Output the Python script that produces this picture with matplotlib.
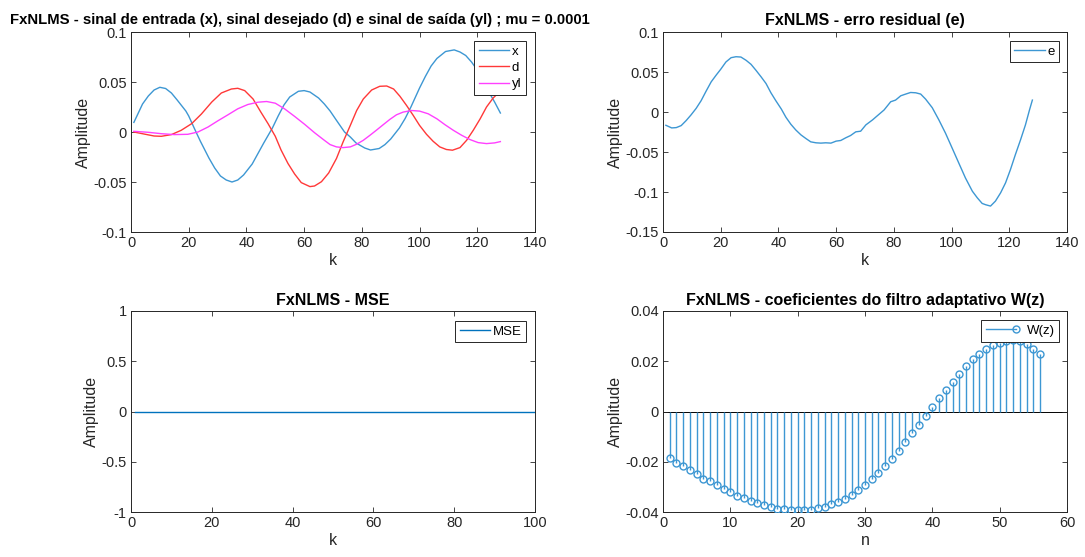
import matplotlib
matplotlib.use("Agg")
import matplotlib.pyplot as plt
from matplotlib.lines import Line2D
from matplotlib.legend_handler import HandlerBase
from matplotlib.ticker import FuncFormatter

# --- data ---
k_x = [1, 4, 6, 8, 10, 12, 14, 16, 19, 20, 22, 24, 27, 29, 31, 33, 35, 37, 39, 42,
       44, 46, 49, 51, 53, 55, 58, 60, 62, 65, 67, 69, 71, 74, 76, 78, 81, 83, 86, 88,
       90, 93, 95, 97, 100, 102, 104, 106, 109, 112, 114, 116, 118, 120, 122, 124, 126, 128]
x_sig = [0.0096, 0.028, 0.036, 0.042, 0.0447, 0.0435, 0.039, 0.032, 0.021, 0.016, 0.0033,
         -0.009, -0.026, -0.036, -0.044, -0.048, -0.050, -0.048, -0.043, -0.032, -0.0215,
         -0.011, 0.004, 0.016, 0.027, 0.035, 0.0407, 0.0414, 0.040, 0.034, 0.028, 0.021,
         0.0125, 0.000, -0.005, -0.011, -0.016, -0.018, -0.0165, -0.0126, -0.007, 0.004,
         0.0135, 0.025, 0.044, 0.0555, 0.066, 0.0735, 0.0805, 0.0821, 0.080, 0.0765, 0.070,
         0.062, 0.052, 0.040, 0.030, 0.019]

k_d = [1, 5, 8, 10.5, 14, 17.4, 21, 24.4, 28, 31.3, 34.8, 37, 39.4, 42.3, 45, 47.5, 50,
       52, 54.4, 56.7, 59, 62, 63.6, 66, 68.5, 71.2, 73.5, 76, 78.2, 80.5, 83.4, 86.2,
       88.6, 91, 93.2, 95.5, 97.8, 100, 102.4, 104.7, 107, 109.3, 111.4, 114, 116.3,
       118.6, 121, 123.2, 125.5, 128]
d_sig = [0.0, -0.0023, -0.004, -0.0043, -0.0026, 0.0017, 0.0083, 0.018, 0.030, 0.039,
         0.043, 0.0437, 0.0414, 0.033, 0.0199, 0.0083, -0.0043, -0.018, -0.0315, -0.042,
         -0.0506, -0.0546, -0.054, -0.0497, -0.041, -0.0265, -0.0099, 0.0066, 0.0215,
         0.033, 0.042, 0.0457, 0.046, 0.043, 0.0357, 0.0265, 0.0166, 0.0066, -0.0023,
         -0.0093, -0.0149, -0.0175, -0.0182, -0.0156, -0.0083, 0.0017, 0.0132, 0.025,
         0.034, 0.041]

k_yl = [1, 6, 10.5, 15, 19.7, 23.2, 26.7, 30, 33.6, 37, 40.5, 44, 47, 50, 53.2, 56.7,
        60.2, 63.6, 67, 69, 71.2, 73.5, 76, 78.2, 80.5, 82.8, 85, 87.4, 89.7, 92, 94.3,
        97.2, 100, 103, 106, 108.8, 111.7, 114.6, 117.5, 120.3, 123.2, 126, 128]
yl_sig = [0.0007, -0.0003, -0.0017, -0.0026, -0.0023, 0.0, 0.005, 0.011, 0.0172, 0.0232,
          0.0275, 0.0298, 0.0305, 0.0288, 0.0232, 0.0156, 0.0076, -0.0007, -0.0083,
          -0.0126, -0.0149, -0.0156, -0.0149, -0.0122, -0.0083, -0.0033, 0.0017, 0.0073,
          0.0126, 0.0172, 0.0199, 0.0215, 0.0209, 0.0182, 0.0132, 0.0073, 0.0017, -0.0033,
          -0.0076, -0.0106, -0.0116, -0.0109, -0.0096]

k_e = [1, 3, 4.6, 6.3, 8, 9.7, 11.5, 13.2, 15, 16.7, 18.4, 20, 21.8, 23.6, 25.3, 27,
       28.8, 30.5, 32.2, 34, 35.7, 37.4, 39.1, 41, 42.6, 44.3, 46, 47.8, 49.5, 51.2, 53,
       54.7, 56.4, 58.2, 60, 61.6, 63.3, 65, 66.8, 68.5, 70.3, 72.6, 74.3, 76.6, 78.9,
       80.6, 82.4, 84.1, 85.8, 87.6, 89.3, 91, 93.3, 95.6, 97.9, 100.2, 102.5, 104.8,
       107.2, 108.9, 110.6, 111.8, 113.5, 115.2, 117, 118.7, 120.4, 122.1, 123.9, 125.6,
       127, 128]
e_sig = [-0.0166, -0.0199, -0.0195, -0.017, -0.0108, -0.0037, 0.0046, 0.0141, 0.0265,
         0.0377, 0.046, 0.0534, 0.0625, 0.0679, 0.0691, 0.0687, 0.0646, 0.0596, 0.0522,
         0.0439, 0.0356, 0.024, 0.0141, 0.0037, -0.0066, -0.0153, -0.0224, -0.0286,
         -0.0331, -0.0373, -0.0385, -0.0389, -0.0385, -0.0389, -0.0364, -0.0356, -0.0323,
         -0.0294, -0.0248, -0.0240, -0.0161, -0.0099, -0.0046, 0.0025, 0.0128, 0.0149,
         0.0203, 0.0224, 0.0244, 0.024, 0.0224, 0.0161, 0.0054, -0.0099, -0.0265, -0.0451,
         -0.0638, -0.0824, -0.099, -0.1072, -0.1143, -0.1159, -0.1176, -0.1114, -0.101,
         -0.0886, -0.072, -0.0534, -0.0348, -0.0161, 0.0025, 0.0149]

k_mse = [1, 100]
mse = [0.0, 0.0]

n_w = list(range(1, 57))
w_coef = [-0.0185, -0.0203, -0.0216, -0.0233, -0.0250, -0.0268, -0.0278, -0.0294,
          -0.0310, -0.0322, -0.0335, -0.0346, -0.0356, -0.0364, -0.0374, -0.0380,
          -0.0387, -0.0389, -0.0392, -0.0393, -0.0393, -0.0392, -0.0385, -0.0379,
          -0.0370, -0.0360, -0.0348, -0.0334, -0.0314, -0.0293, -0.0269, -0.0244,
          -0.0216, -0.0188, -0.0156, -0.0123, -0.0087, -0.0053, -0.0019, 0.0016,
          0.0053, 0.0087, 0.0119, 0.0150, 0.0181, 0.0207, 0.0230, 0.0250, 0.0266,
          0.0273, 0.0280, 0.0284, 0.0280, 0.0269, 0.0250, 0.0230]

BLUE = "#0072BD"
LBLUE = "#3d97d3"
TXT = "#262626"

plt.rcParams["font.family"] = ["Liberation Sans", "DejaVu Sans"]
plt.rcParams["axes.unicode_minus"] = False


class StemHandler(HandlerBase):
    # MATLAB-style stem legend: line with the marker at its right end
    def create_artists(self, legend, orig_handle, xdescent, ydescent, width, height,
                       fontsize, trans):
        y = height / 2 - ydescent
        ln = Line2D([-xdescent, width - xdescent], [y, y], color=LBLUE, lw=1.0)
        mk = Line2D([width - xdescent], [y], marker="o", ms=5, mfc="none",
                    mec=LBLUE, mew=1.0, ls="none")
        ln.set_transform(trans)
        mk.set_transform(trans)
        return [ln, mk]


def style(ax, xt, yt, xlab):
    ax.set_xticks(xt)
    ax.set_yticks(yt)
    ax.set_xlim(xt[0], xt[-1])
    ax.set_ylim(yt[0], yt[-1])
    fmt = FuncFormatter(lambda v, p: "%g" % round(v, 6))
    ax.xaxis.set_major_formatter(fmt)
    ax.yaxis.set_major_formatter(fmt)
    ax.tick_params(direction="in", top=True, right=True, length=3.5, width=0.6,
                   colors=TXT, labelsize=10.5, pad=3)
    for s in ax.spines.values():
        s.set_color(TXT)
        s.set_linewidth(0.7)
    ax.set_xlabel(xlab, fontsize=11.5, color=TXT, labelpad=2)
    ax.set_ylabel("Amplitude", fontsize=11.5, color=TXT, labelpad=2)


def legend(ax, anchor, textpad=0.2, **kw):
    lg = ax.legend(loc="upper right", bbox_to_anchor=anchor, borderaxespad=0,
                   fontsize=9.5, fancybox=False, framealpha=1, edgecolor=TXT,
                   handlelength=2.3, handletextpad=textpad, labelspacing=0.3,
                   borderpad=0.35, **kw)
    lg.get_frame().set_linewidth(0.7)
    return lg


W, H = 1085, 557
fig = plt.figure(figsize=(W / 100, H / 100), dpi=100)


def box(l, t, w, h):
    return [l / W, (H - t - h) / H, w / W, h / H]


ax1 = fig.add_axes(box(131, 32, 404, 200))
ax2 = fig.add_axes(box(663, 32, 404, 200))
ax3 = fig.add_axes(box(131, 311, 404, 201))
ax4 = fig.add_axes(box(663, 311, 404, 201))

# top-left: x, d, yl
ax1.plot(k_x, x_sig, color=LBLUE, lw=1.0, label="x")
ax1.plot(k_d, d_sig, color="#ff3838", lw=1.0, label="d")
ax1.plot(k_yl, yl_sig, color="#ff40ff", lw=1.0, label="yl")
style(ax1, [0, 20, 40, 60, 80, 100, 120, 140], [-0.1, -0.05, 0, 0.05, 0.1], "k")
ax1.set_title("FxNLMS - sinal de entrada (x), sinal desejado (d) e sinal de saída (yl) ; mu = 0.0001",
              fontsize=10.7, fontweight="bold", color="black", pad=5.5, x=0.418)
legend(ax1, (0.978, 0.955))

# top-right: residual error
ax2.plot(k_e, e_sig, color=LBLUE, lw=1.0, label="e")
style(ax2, [0, 20, 40, 60, 80, 100, 120, 140], [-0.15, -0.1, -0.05, 0, 0.05, 0.1], "k")
ax2.set_title("FxNLMS - erro residual (e)", fontsize=11.5, fontweight="bold",
              color="black", pad=5)
legend(ax2, (0.981, 0.955))

# bottom-left: MSE
ax3.plot(k_mse, mse, color=BLUE, lw=1.0, label="MSE")
style(ax3, [0, 20, 40, 60, 80, 100], [-1, -0.5, 0, 0.5, 1], "k")
ax3.set_title("FxNLMS - MSE", fontsize=11.5, fontweight="bold", color="black", pad=4)
legend(ax3, (0.978, 0.952))

# bottom-right: adaptive filter coefficients (stem)
ax4.axhline(0, color="black", lw=0.7, zorder=1)
ax4.vlines(n_w, 0, w_coef, color=LBLUE, lw=1.0, zorder=2)
ax4.plot(n_w, w_coef, ls="none", marker="o", ms=5, mfc="none", mec=LBLUE,
         mew=1.0, zorder=3)
style(ax4, [0, 10, 20, 30, 40, 50, 60], [-0.04, -0.02, 0, 0.02, 0.04], "n")
ax4.set_title("FxNLMS - coeficientes do filtro adaptativo W(z)", fontsize=11.5,
              fontweight="bold", color="black", pad=4)
proxy = Line2D([], [], color=LBLUE)
lg = legend(ax4, (0.981, 0.955), textpad=0.8, handles=[proxy], labels=["W(z)"],
            handler_map={Line2D: StemHandler()})
lg.set_zorder(5)

fig.savefig("out.png", dpi=100, facecolor="white")
